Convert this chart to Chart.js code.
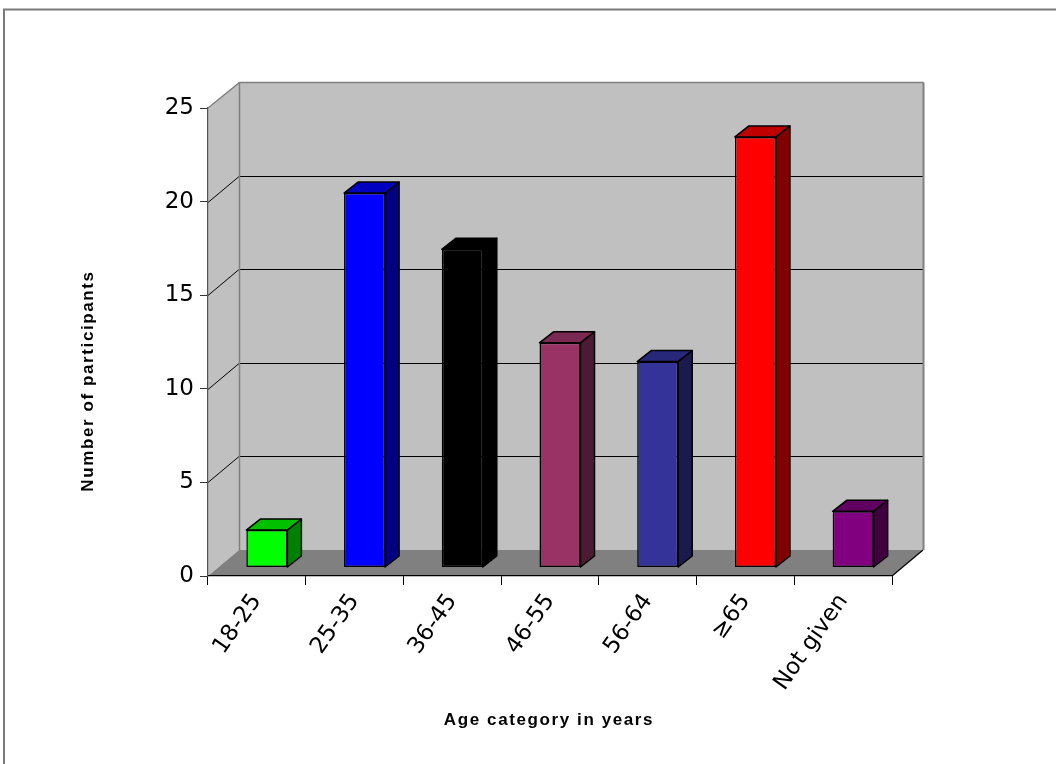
<!DOCTYPE html>
<html>
<head>
<meta charset="utf-8">
<title>Age category of participants</title>
<script src="https://cdn.jsdelivr.net/npm/chart.js@4/dist/chart.umd.min.js"></script>
<style>
  html, body { margin: 0; padding: 0; background: #fff; }
  canvas { display: block; }
</style>
</head>
<body>
<canvas id="ageChart" width="1056" height="764"></canvas>
<script>
// Participants per age category
const ageGroups = ['18-25', '25-35', '36-45', '46-55', '56-64', '\u226565', 'Not given'];
const participants = [2, 20, 17, 12, 11, 23, 3];
const yTickStep = 5;
const yMax = 25;

// Bar shading: front face, top face, side face
const frontColors = ['#00ff00', '#0000ff', '#000000', '#993366', '#333399', '#ff0000', '#800080'];
const topColors   = ['#00c000', '#0000c0', '#000000', '#7a2952', '#28287a', '#c00000', '#600060'];
const sideColors  = ['#008000', '#000080', '#000000', '#4d1a33', '#1a1a4d', '#800000', '#400040'];

(function(){
  const DEPTH = { x: 31, y: -26 };       // back wall offset from front plane
  const BAR_SHIFT = { x: 10, y: -8.5 };  // bars stand a bit into the floor
  const BAR_DEPTH = { x: 14, y: -11 };   // thickness of each bar

  const crisp = (v) => Math.round(v) + 0.5;

  function poly(ctx, pts, fill, stroke, lw){
    ctx.beginPath();
    ctx.moveTo(pts[0][0], pts[0][1]);
    for(let i = 1; i < pts.length; i++) ctx.lineTo(pts[i][0], pts[i][1]);
    ctx.closePath();
    if(fill){ ctx.fillStyle = fill; ctx.fill(); }
    if(stroke){ ctx.strokeStyle = stroke; ctx.lineWidth = lw || 1; ctx.stroke(); }
  }

  function line(ctx, x1, y1, x2, y2, color, lw){
    ctx.beginPath();
    ctx.moveTo(x1, y1);
    ctx.lineTo(x2, y2);
    ctx.strokeStyle = color;
    ctx.lineWidth = lw || 1;
    ctx.stroke();
  }

  // ====== Walls, floor and frame ======
  const boxPlugin = {
    id: 'box3d',
    beforeDraw(chart){
      const ctx = chart.ctx;
      const { left: L, right: R, top: T, bottom: B } = chart.chartArea;
      const dx = DEPTH.x, dy = DEPTH.y;
      const yScale = chart.scales.y;
      ctx.save();
      ctx.fillStyle = '#ffffff';
      ctx.fillRect(0, 0, chart.width, chart.height);

      // outer frame
      ctx.strokeStyle = '#7a7a7a';
      ctx.lineWidth = 2;
      ctx.beginPath();
      ctx.moveTo(chart.width + 2, 9.5);
      ctx.lineTo(4, 9.5);
      ctx.lineTo(4, chart.height + 2);
      ctx.stroke();

      // back wall, side wall, floor
      ctx.fillStyle = '#c0c0c0';
      ctx.fillRect(L + dx, T + dy, R - L, B - T);
      poly(ctx, [[L, T], [L + dx, T + dy], [L + dx, B + dy], [L, B]], '#c0c0c0');
      poly(ctx, [[L, B], [L + dx, B + dy], [R + dx, B + dy], [R, B]], '#808080');

      // grid lines running across side wall and back wall
      for(const t of yScale.ticks){
        if(t.value <= 0 || t.value >= yMax) continue;
        const py = yScale.getPixelForValue(t.value);
        ctx.beginPath();
        ctx.moveTo(L, crisp(py));
        ctx.lineTo(L + dx, crisp(py + dy));
        ctx.lineTo(R + dx, crisp(py + dy));
        ctx.strokeStyle = '#000';
        ctx.lineWidth = 1;
        ctx.stroke();
      }

      // wall edges
      const bx = crisp(L + dx), rx = crisp(R + dx), ty = crisp(T + dy), by = B + dy;
      line(ctx, L, T, bx, ty, '#808080', 1.5);
      line(ctx, bx, ty, rx, ty, '#808080', 1.5);
      line(ctx, bx, ty, bx, by, '#808080', 1.5);
      line(ctx, rx, ty, rx, by, '#808080', 2);
      line(ctx, R, B, R + dx, B + dy, '#000', 1.2);
      ctx.restore();
    },
    // bars are drawn slightly behind the front plane
    beforeDatasetDraw(chart){
      chart.ctx.save();
      chart.ctx.translate(BAR_SHIFT.x, BAR_SHIFT.y);
    },
    afterDatasetDraw(chart, args){
      const ctx = chart.ctx;
      const bx = BAR_DEPTH.x, by = BAR_DEPTH.y;
      args.meta.data.forEach((bar, i) => {
        const { x, y, base, width } = bar.getProps(['x', 'y', 'base', 'width'], true);
        const l = x - width / 2, r = x + width / 2;
        ctx.lineJoin = 'round';
        poly(ctx, [[l, y], [l + bx, y + by], [r + bx, y + by], [r, y]], topColors[i], '#000', 1.5);
        poly(ctx, [[r, y], [r + bx, y + by], [r + bx, base + by], [r, base]], sideColors[i], '#000', 1.5);
      });
      ctx.restore();
    },
    // axis titles
    afterDraw(chart){
      const ctx = chart.ctx;
      ctx.save();
      ctx.fillStyle = '#000';
      ctx.font = 'bold 17px "Liberation Sans", Arial, sans-serif';
      ctx.letterSpacing = '1.6px';
      ctx.textAlign = 'center';
      ctx.textBaseline = 'middle';
      ctx.fillText('Age category in years', 549, 720);
      ctx.translate(88, 381);
      ctx.rotate(-Math.PI / 2);
      ctx.fillText('Number of participants', 0, 0);
      ctx.restore();
    }
  };

  const tickFont = { family: '"DejaVu Sans", sans-serif', size: 23 };

  new Chart(document.getElementById('ageChart'), {
    type: 'bar',
    data: {
      labels: ageGroups,
      datasets: [{
        label: 'Number of participants',
        data: participants,
        backgroundColor: frontColors,
        borderColor: '#000',
        borderWidth: 1.5,
        borderSkipped: false,
        barPercentage: 0.42,
        categoryPercentage: 1,
        clip: false
      }]
    },
    options: {
      responsive: false,
      animation: false,
      events: [],
      layout: { padding: { top: 108, right: 164, left: 0, bottom: 0 } },
      plugins: {
        legend: { display: false },
        tooltip: { enabled: false }
      },
      scales: {
        x: {
          grid: { drawOnChartArea: false, color: '#000', tickLength: 9, offset: true },
          border: { color: '#000', width: 1.2 },
          ticks: {
            color: '#000',
            font: tickFont,
            minRotation: 55,
            maxRotation: 55,
            autoSkip: false,
            padding: 4
          },
          afterFit(scale){ scale.height = 188; }
        },
        y: {
          min: 0,
          max: yMax,
          grid: { drawOnChartArea: false, color: '#333', tickLength: 8 },
          border: { color: '#555', width: 1.2 },
          ticks: { stepSize: yTickStep, color: '#000', font: tickFont, padding: 6 },
          afterFit(scale){ scale.width = 208; }
        }
      }
    },
    plugins: [boxPlugin]
  });
})();
</script>
</body>
</html>
